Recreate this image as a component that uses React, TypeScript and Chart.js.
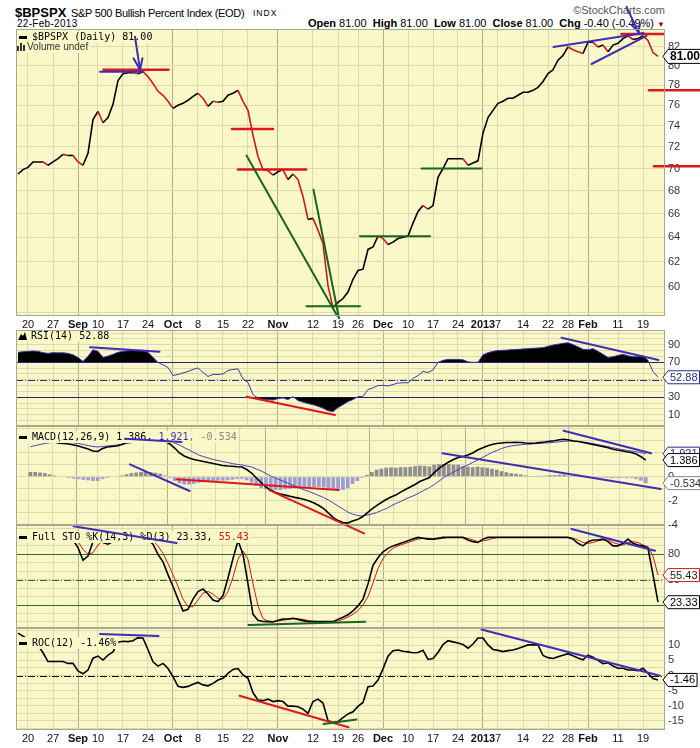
import React, { useEffect, useRef } from "react";
import { Chart, registerables } from "chart.js";
Chart.register(...registerables);

// ---------------- data ----------------
const TICK_IDX = [2, 7, 12, 16, 21, 26, 31, 36, 41, 46, 52, 59, 64, 68, 73, 78, 83, 88, 93, 96, 101, 106, 110, 114, 120, 125];
const TICK_LABELS = ["20", "27", "Sep", "10", "17", "24", "Oct", "8", "15", "22", "Nov", "12", "19", "26", "Dec", "10", "17", "24", "2013", "7", "14", "22", "28", "Feb", "11", "19"];
const MONTH_TICKS = ["Sep", "Oct", "Nov", "Dec", "2013", "Feb"];

const PRICE = [
  69.5, 69.9, 70.1, 70.6, 70.6, 70.6, 70.3, 70.6, 70.9, 71.3,
  71.2, 71.2, 70.6, 70.3, 71.4, 74.6, 75.4, 74.3, 74.8, 76.1,
  78.5, 79.2, 79.3, 79.3, 79.2, 79.4, 78.9, 78.2, 77.4, 77.0,
  76.4, 75.7, 76.0, 76.2, 76.5, 76.9, 77.2, 76.7, 75.9, 76.4,
  76.3, 76.4, 77.0, 77.2, 77.5, 76.4, 75.5, 73.1, 71.1, 69.9,
  69.8, 69.4, 69.7, 69.9, 69.0, 69.5, 69.0, 67.5, 65.5, 65.6,
  64.6, 63.5, 60.1, 58.4, 58.8, 59.1, 59.6, 60.6, 61.3, 61.4,
  63.0, 63.2, 64.1, 63.9, 63.4, 63.6, 63.9, 64.0, 64.1, 65.2,
  66.2, 66.7, 66.4, 66.7, 69.2, 70.0, 70.9, 70.9, 70.9, 70.9,
  70.3, 70.5, 70.7, 73.3, 74.8, 75.5, 76.2, 76.4, 76.7, 76.7,
  77.0, 77.3, 77.3, 77.5, 77.8, 78.4, 79.2, 79.6, 80.6, 81.1,
  82.0, 81.7, 81.5, 81.3, 82.5, 82.5, 82.0, 82.2, 81.5, 82.2,
  82.4, 82.9, 83.2, 82.8, 82.9, 83.2, 82.7, 81.4, 81.0,
];

const RSI = [
  81.4, 82.0, 82.5, 82.9, 82.5, 81.0, 80.2, 81.0, 80.8, 80.8,
  80.2, 78.5, 75.6, 71.0, 76.8, 84.3, 82.5, 75.6, 77.1, 79.1,
  81.4, 82.5, 83.1, 83.7, 83.7, 83.7, 81.4, 75.6, 69.9, 67.0,
  64.1, 54.9, 56.1, 57.8, 59.5, 61.8, 63.6, 58.4, 53.8, 56.1,
  56.1, 56.7, 60.7, 61.8, 62.4, 50.9, 46.9, 33.1, 29.1, 27.4,
  27.4, 26.8, 28.5, 29.3, 27.4, 30.8, 26.2, 24.5, 22.8, 21.6,
  19.7, 17.6, 14.7, 13.6, 18.2, 21.6, 25.1, 27.4, 30.8, 31.1,
  38.9, 40.8, 43.4, 43.7, 42.9, 44.6, 46.3, 46.6, 46.6, 51.5,
  54.9, 59.5, 58.4, 61.3, 69.9, 72.2, 73.3, 73.3, 73.3, 72.8,
  70.5, 69.9, 70.1, 78.5, 81.0, 82.5, 83.4, 83.7, 84.0, 84.5,
  84.8, 85.2, 85.5, 86.0, 86.3, 86.7, 88.3, 89.7, 90.6, 91.7,
  92.3, 90.2, 87.7, 84.8, 84.3, 85.6, 82.5, 79.1, 75.6, 76.4,
  77.9, 79.1, 77.4, 76.4, 76.4, 77.4, 72.2, 59.5, 52.88,
];

const MACD = [
  2.98, 3.0, 3.0, 2.98, 2.93, 2.9, 2.8, 2.77, 2.72, 2.64,
  2.56, 2.43, 2.31, 2.14, 2.1, 2.35, 2.48, 2.52, 2.56, 2.68,
  2.85, 2.98, 3.06, 3.12, 3.14, 3.14, 3.1, 3.06, 2.93, 2.73,
  2.39, 1.98, 1.73, 1.56, 1.43, 1.35, 1.27, 1.18, 1.1, 1.02,
  0.93, 0.89, 0.87, 0.83, 0.81, 0.6, 0.31, -0.11, -0.48, -0.86,
  -1.11, -1.32, -1.44, -1.53, -1.63, -1.72, -1.8, -1.9, -2.03, -2.19,
  -2.4, -2.65, -3.03, -3.4, -3.65, -3.82, -3.86, -3.69, -3.57, -3.36,
  -3.03, -2.69, -2.4, -2.15, -1.9, -1.69, -1.53, -1.28, -1.07, -0.86,
  -0.65, -0.4, -0.23, -0.07, 0.35, 0.7, 0.98, 1.23, 1.43, 1.6,
  1.68, 1.81, 1.98, 2.23, 2.39, 2.56, 2.68, 2.77, 2.81, 2.85,
  2.85, 2.87, 2.85, 2.81, 2.78, 2.81, 2.85, 2.89, 2.95, 3.0,
  3.08, 3.12, 3.06, 2.98, 2.93, 2.85, 2.77, 2.68, 2.6, 2.52,
  2.43, 2.31, 2.23, 2.17, 2.08, 2.02, 1.89, 1.67, 1.386,
];

const SIGNAL = [
  2.5, 2.6, 2.68, 2.77, 2.83, 2.87, 2.89, 2.89, 2.85, 2.81,
  2.77, 2.68, 2.6, 2.52, 2.48, 2.52, 2.56, 2.6, 2.64, 2.7,
  2.77, 2.83, 2.89, 2.93, 2.98, 3.02, 3.04, 3.02, 2.98, 2.89,
  2.81, 2.64, 2.43, 2.23, 2.02, 1.81, 1.67, 1.56, 1.43, 1.35,
  1.27, 1.18, 1.1, 1.03, 0.98, 0.89, 0.81, 0.64, 0.48, 0.27,
  0.06, -0.11, -0.28, -0.44, -0.61, -0.78, -0.94, -1.11, -1.23, -1.4,
  -1.57, -1.73, -1.94, -2.19, -2.44, -2.69, -2.94, -3.11, -3.23, -3.28,
  -3.19, -3.11, -2.98, -2.82, -2.65, -2.44, -2.23, -2.07, -1.86, -1.69,
  -1.53, -1.32, -1.11, -0.9, -0.65, -0.36, -0.07, 0.18, 0.39, 0.6,
  0.81, 0.98, 1.18, 1.39, 1.6, 1.81, 2.02, 2.18, 2.35, 2.48,
  2.56, 2.62, 2.66, 2.7, 2.73, 2.75, 2.78, 2.81, 2.83, 2.87,
  2.91, 2.95, 2.98, 2.96, 2.93, 2.89, 2.83, 2.77, 2.68, 2.6,
  2.52, 2.43, 2.35, 2.27, 2.2, 2.14, 2.08, 2.0, 1.921,
];

const HIST = [
  0.4, 0.4, 0.35, 0.3, 0.2, 0.1, 0.0, -0.05, -0.1, -0.15,
  -0.2, -0.25, -0.3, -0.35, -0.35, -0.2, -0.1, 0.0, 0.05, 0.1,
  0.2, 0.3, 0.35, 0.4, 0.4, 0.38, 0.33, 0.25, 0.1, -0.1,
  -0.35, -0.55, -0.65, -0.65, -0.6, -0.5, -0.45, -0.4, -0.35, -0.33,
  -0.33, -0.3, -0.25, -0.2, -0.2, -0.3, -0.5, -0.75, -0.95, -1.05,
  -1.1, -1.1, -1.1, -1.05, -1.0, -0.95, -0.9, -0.85, -0.85, -0.85,
  -0.85, -0.9, -1.0, -1.1, -1.15, -1.1, -0.95, -0.6, -0.35, -0.1,
  0.15, 0.4, 0.58, 0.67, 0.75, 0.78, 0.75, 0.8, 0.8, 0.83,
  0.88, 0.92, 0.9, 0.85, 1.0, 1.05, 1.05, 1.05, 1.0, 1.0,
  0.87, 0.83, 0.8, 0.84, 0.79, 0.75, 0.66, 0.59, 0.46, 0.37,
  0.29, 0.25, 0.19, 0.11, 0.05, 0.06, 0.07, 0.08, 0.12, 0.13,
  0.17, 0.17, 0.08, 0.02, 0.0, -0.04, -0.06, -0.09, -0.08, -0.08,
  -0.09, -0.12, -0.12, -0.1, -0.12, -0.12, -0.19, -0.33, -0.534,
];

const STO_K = [
  95, 97, 98, 100, 100, 99, 96, 96, 98, 100,
  99, 97, 88, 73, 78, 95, 100, 94, 92, 95,
  98, 100, 100, 100, 98, 100, 97, 92, 80, 71,
  56, 42, 27, 13, 15, 27, 36, 39, 33, 26,
  24, 31, 52, 75, 96, 80, 45, 9, 2, 0.5,
  0.3, 0, 2, 3.5, 3.5, 4.3, 3, 1.5, 0.5, 0.3,
  0.3, 0.3, 0.3, 0.3, 3, 5.5, 8.5, 13, 19, 27,
  45, 67, 76, 83, 87, 90, 92, 94, 96, 98,
  100, 99, 98, 98, 99, 100, 100, 100, 100, 100,
  97, 95, 94, 98, 100, 100, 100, 100, 100, 100,
  100, 100, 100, 100, 100, 100, 100, 100, 100, 100,
  100, 98, 93, 90, 95, 97, 97, 98, 95, 90,
  90, 93, 98, 93, 91, 90, 87, 56, 23.33,
];

const STO_D = [
  94, 95, 97, 98, 99, 100, 98, 97, 97, 98,
  99, 99, 95, 86, 80, 82, 91, 96, 95, 94,
  95, 98, 99, 100, 99, 99, 98, 96, 90, 81,
  69, 56, 42, 27, 18, 18, 26, 34, 36, 33,
  28, 27, 36, 53, 74, 84, 74, 45, 19, 4,
  1, 0.5, 1, 2, 3, 3.8, 3.6, 3, 1.7, 0.8,
  0.4, 0.3, 0.3, 0.3, 1.2, 3, 5.7, 9, 13.5, 20,
  30, 46, 63, 75, 82, 87, 90, 92, 94, 96,
  98, 99, 99, 98, 98, 99, 100, 100, 100, 100,
  99, 97, 95, 96, 97, 99, 100, 100, 100, 100,
  100, 100, 100, 100, 100, 100, 100, 100, 100, 100,
  100, 99, 97, 94, 93, 94, 96, 97, 97, 94,
  92, 91, 94, 95, 94, 91, 89, 78, 55.43,
];

const ROC = [
  14, 13, 12, 12, 10, 7.5, 4.6, 4.6, 4.6, 4.6,
  4.0, 4.0, 1.5, 0.6, 1.8, 5.7, 6.4, 5.1, 6.7, 7.8,
  11, 11.3, 11.2, 11.5, 12.5, 12.3, 8.5, 4.5, 3.1, 4.0,
  2.3, -0.4, -3.6, -3.9, -3.6, -2.9, -2.3, -3.1, -3.4, -2.6,
  -1.5, -0.9, 0.7, 2.0, 2.3, 0.2, -0.9, -5.7, -8.1, -8.3,
  -7.8, -8.6, -8.3, -8.6, -10.1, -10.1, -10.3, -11.1, -12.5, -8.6,
  -7.8, -9.1, -14.9, -15.5, -15.2, -13.9, -12.7, -12.0, -10.2, -8.9,
  -3.7, -3.5, -1.5, 2.2, 6.4, 8.2, 8.4, 8.0, 7.8, 7.5,
  7.6, 8.3, 5.3, 5.6, 7.6, 10.2, 11.5, 11.1, 10.7, 10.2,
  9.0, 10.4, 12.4, 12.4, 10.1, 8.6, 8.3, 7.9, 8.2, 8.4,
  8.9, 9.5, 10.1, 10.1, 10.1, 6.6, 5.9, 5.6, 6.2, 6.7,
  7.2, 6.5, 5.8, 5.2, 6.7, 6.0, 5.0, 3.9, 4.2, 3.1,
  2.4, 2.4, 1.8, 1.8, 1.6, 2.4, 0.7, -1.0, -1.46,
];

// y tick values / labels
const PRICE_TICKS = [58, 60, 62, 64, 66, 68, 70, 72, 74, 76, 78, 80, 82];
const PRICE_LABELS = [60, 62, 64, 66, 68, 70, 72, 74, 76, 78, 80, 82];
const RSI_TICKS = [3.33, 10, 16.67, 23.33, 30, 36.67, 43.33, 50, 56.67, 63.33, 70, 76.67, 83.33, 90, 96.67, 103.33];
const RSI_LABELS = [10, 30, 50, 70, 90];
const MACD_TICKS = [-4, -3, -2, -1, 0, 1, 2, 3, 4];
const MACD_LABELS = [-4, -2, 0, 2];
const STO_TICKS = [0, 10, 20, 30, 40, 50, 60, 70, 80, 90, 100, 110];
const STO_LABELS = [20, 50, 80];
const ROC_TICKS = [-17.5, -15, -12.5, -10, -7.5, -5, -2.5, 0, 2.5, 5, 7.5, 10, 12.5, 15];
const ROC_LABELS = [-15, -10, -5, 0, 5, 10];

const RSI_LEVELS = [70, 50, 30];
const STO_LEVELS = [80, 50, 20];
const ROC_LEVELS = [0];

// hand-drawn annotation segments [x1, y1, x2, y2] in data units
const PRICE_RED_NOTES = [
  [17.1, 79.6, 30.1, 79.6], [42.8, 73.7, 51.0, 73.7], [44.0, 69.9, 57.6, 69.9],
  [126.2, 77.5, 136.4, 77.5], [127.2, 70.2, 136.4, 70.2], [120.7, 83.4, 129.1, 83.4],
];
const PRICE_BLUE_NOTES = [
  [16.4, 79.4, 25.1, 79.4], [23.4, 83.1, 24.4, 79.6], [23.1, 80.8, 24.4, 79.6], [24.9, 80.8, 24.4, 79.6],
  [107.1, 82.0, 125.1, 83.5], [114.7, 80.2, 125.7, 83.2],
  [121.7, 86.4, 124.1, 83.6], [122.7, 84.4, 124.1, 83.6], [124.4, 84.5, 124.1, 83.6],
];
const PRICE_GREEN_NOTES = [
  [45.7, 71.2, 63.8, 57.8], [59.1, 68.1, 64.2, 57.6], [57.7, 58.5, 68.4, 58.5],
  [68.4, 64.1, 82.4, 64.1], [80.7, 70.0, 92.7, 70.0],
];
const RSI_BLUE_NOTES = [[14.4, 87.1, 28.3, 82.1], [108.7, 98.1, 128.1, 72.6]];
const RSI_RED_NOTES = [[45.7, 30.7, 63.4, 9.8]];
const MACD_BLUE_NOTES = [[19.7, 3.17, 31.4, 2.89], [20.7, 1.03, 33.1, -1.19], [85.7, 1.95, 131.1, -1.03], [110.9, 3.83, 129.1, 1.95]];
const MACD_RED_NOTES = [[30.4, -0.22, 64.1, -1.11], [49.7, -1.11, 69.4, -4.72]];
const STO_BLUE_NOTES = [[11.1, 113.2, 31.7, 93.4], [110.7, 110, 127.4, 84.3]];
const STO_GREEN_NOTES = [[46.1, -3.6, 69.4, 0.3]];
const ROC_BLUE_NOTES = [[16.4, 13.7, 28.1, 13.0], [92.7, 15.2, 128.4, -0.07]];
const ROC_RED_NOTES = [[44.3, -6.67, 66.1, -17.1]];
const ROC_GREEN_NOTES = [[61.1, -16, 67.7, -14.5]];

// ---------------- styles ----------------
const FONT = "'Liberation Sans', Arial, sans-serif";
const MONO = "'DejaVu Sans Mono', monospace";
const PLOT_BG = "#FAF8C9";
const GRID = "#DCD9AC";
const GRID_DARK = "#B2B08C";
const NOTE_RED = "#E0161B";
const NOTE_BLUE = "#3F2EB4";
const NOTE_GREEN = "#17661D";
const LINE_RED = "#D0181A";
const NAVY = "#2B2A8C";
const DKGREEN = "#2E6A2A";

const X_MIN = -0.4;
const X_MAX = 129.4;
const PAGE_LEFT = 16;

const pts = (arr: number[]) => arr.map((v, i) => ({ x: i, y: v }));

function noteSets(list: number[][], color: string, width: number) {
  return list.map((n) => ({
    type: "line",
    data: [{ x: n[0], y: n[1] }, { x: n[2], y: n[3] }],
    borderColor: color,
    borderWidth: width,
    pointRadius: 0,
    fill: false,
    clip: false,
    tension: 0,
    order: 0,
    borderCapStyle: "round",
    isNote: true,
  }));
}

function drawTag(ctx: any, x: number, y: number, t: any) {
  ctx.save();
  const size = t.size || 11;
  ctx.font = `${t.bold ? "bold " : ""}${size}px ${FONT}`;
  const w = ctx.measureText(t.text).width + 4;
  const h = size + 2;
  ctx.beginPath();
  ctx.moveTo(x, y);
  ctx.lineTo(x + 5, y - h / 2);
  ctx.lineTo(x + 5 + w, y - h / 2);
  ctx.lineTo(x + 5 + w, y + h / 2);
  ctx.lineTo(x + 5, y + h / 2);
  ctx.closePath();
  ctx.fillStyle = "#fff";
  ctx.fill();
  ctx.lineWidth = 1;
  ctx.strokeStyle = t.border;
  ctx.stroke();
  ctx.fillStyle = t.color;
  ctx.textBaseline = "middle";
  ctx.textAlign = "left";
  ctx.fillText(t.text, x + 7, y + 0.5);
  ctx.restore();
}

function drawLegend(chart: any, p: any) {
  const ctx = chart.ctx;
  (p.legend || []).forEach((it: any) => {
    const x0 = it.x - PAGE_LEFT;
    const tx = it.tx - PAGE_LEFT;
    const y0 = it.y - p.top;
    ctx.save();
    ctx.font = it.font;
    let w = 0;
    it.parts.forEach((pt: any) => (w += ctx.measureText(pt[0]).width));
    ctx.fillStyle = PLOT_BG;
    ctx.fillRect(x0 - 1, y0 - 6, tx - x0 + w + 3, 12);
    if (it.dash) {
      ctx.fillStyle = "#000";
      ctx.fillRect(x0, y0 - 1, 8, 3);
    }
    if (it.icon === "mountain") {
      ctx.fillStyle = "#000";
      ctx.beginPath();
      ctx.moveTo(x0, y0 + 4);
      ctx.lineTo(x0 + 3, y0 - 2);
      ctx.lineTo(x0 + 5, y0);
      ctx.lineTo(x0 + 7, y0 - 4);
      ctx.lineTo(x0 + 9, y0 + 4);
      ctx.closePath();
      ctx.fill();
    }
    if (it.icon === "vol") {
      ctx.fillStyle = "#333";
      ctx.fillRect(x0, y0 - 1, 2, 5);
      ctx.fillRect(x0 + 3, y0 - 4, 2, 8);
      ctx.fillRect(x0 + 6, y0 - 2, 2, 6);
    }
    ctx.textBaseline = "middle";
    let cx = tx;
    it.parts.forEach((pt: any) => {
      ctx.fillStyle = pt[1];
      ctx.fillText(pt[0], cx, y0 + 0.5);
      cx += ctx.measureText(pt[0]).width;
    });
    ctx.restore();
  });
}

function panelPlugin(p: any) {
  return {
    id: "panel_" + p.key,
    beforeDraw(chart: any) {
      const a = chart.chartArea;
      const ctx = chart.ctx;
      ctx.save();
      ctx.fillStyle = PLOT_BG;
      ctx.fillRect(a.left, a.top, a.right - a.left, a.bottom - a.top);
      ctx.restore();
      chart.$legendDone = false;
    },
    beforeDatasetsDraw(chart: any) {
      const a = chart.chartArea;
      const ctx = chart.ctx;
      const ys = chart.scales.y;
      (p.levels || []).forEach((l: any) => {
        const y = Math.round(ys.getPixelForValue(l.v)) + 0.5;
        ctx.save();
        ctx.strokeStyle = l.color;
        ctx.lineWidth = 1;
        ctx.setLineDash(l.dash ? [7, 2, 1, 2] : []);
        ctx.beginPath();
        ctx.moveTo(a.left, y);
        ctx.lineTo(a.right, y);
        ctx.stroke();
        ctx.restore();
      });
    },
    beforeDatasetDraw(chart: any, args: any) {
      if (!chart.$legendDone && chart.data.datasets[args.index].isNote) {
        drawLegend(chart, p);
        chart.$legendDone = true;
      }
    },
    afterDatasetsDraw(chart: any) {
      if (!chart.$legendDone) {
        drawLegend(chart, p);
        chart.$legendDone = true;
      }
    },
    afterDraw(chart: any) {
      const a = chart.chartArea;
      const ctx = chart.ctx;
      ctx.save();
      ctx.strokeStyle = "#A8A792";
      ctx.lineWidth = 1;
      ctx.strokeRect(a.left + 0.5, a.top + 0.5, a.right - a.left - 1, a.bottom - a.top - 1);
      ctx.restore();
      const ys = chart.scales.y;
      (p.tags || []).forEach((t: any) => drawTag(ctx, a.right - 2, ys.getPixelForValue(t.v), t));
    },
  };
}

function buildConfig(p: any) {
  const tickFont = { family: FONT, size: 11 };
  return {
    type: "line",
    data: { datasets: p.datasets },
    options: {
      animation: false,
      responsive: false,
      devicePixelRatio: 1,
      events: [],
      layout: { padding: { top: p.padTop, bottom: p.padBottom, left: 0, right: 0 } },
      plugins: { legend: { display: false }, tooltip: { enabled: false } },
      scales: {
        x: {
          type: "linear",
          min: X_MIN,
          max: X_MAX,
          bounds: "data",
          position: "bottom",
          afterBuildTicks: (s: any) => {
            s.ticks = TICK_IDX.map((v) => ({ value: v }));
          },
          afterFit: (s: any) => {
            s.height = p.xAxisH;
            s.paddingLeft = 0;
            s.paddingRight = 0;
          },
          border: { display: false },
          grid: {
            drawTicks: false,
            lineWidth: 1,
            color: (c: any) => (MONTH_TICKS.includes(TICK_LABELS[c.index]) ? GRID_DARK : GRID),
          },
          ticks: {
            display: p.xLabels,
            autoSkip: false,
            maxRotation: 0,
            padding: 2,
            color: "#111",
            font: (c: any) => ({
              family: FONT,
              size: 11,
              weight: MONTH_TICKS.includes(TICK_LABELS[c.index]) ? "bold" : "normal",
            }),
            callback: (_v: any, i: number) => TICK_LABELS[i],
          },
        },
        y: {
          type: p.yType || "linear",
          position: "right",
          min: p.yMin,
          max: p.yMax,
          bounds: "data",
          afterBuildTicks: (s: any) => {
            s.ticks = p.yTicks.map((v: number) => ({ value: v }));
          },
          afterFit: (s: any) => {
            s.width = 35;
            s.paddingTop = 0;
            s.paddingBottom = 0;
          },
          border: { display: false },
          grid: { drawTicks: false, color: GRID, lineWidth: 1 },
          ticks: {
            padding: 3,
            color: "#333",
            font: tickFont,
            autoSkip: false,
            callback: (v: any) => (p.yLabels.includes(v) ? String(v) : ""),
          },
        },
      },
    },
    plugins: [panelPlugin(p)],
  };
}

const PANELS: any[] = [
  {
    key: "price", top: 0, height: 330, padTop: 29, padBottom: 0, xAxisH: 14, xLabels: true,
    yType: "logarithmic", yMin: 57.77, yMax: 83.94, yTicks: PRICE_TICKS, yLabels: PRICE_LABELS,
    datasets: [
      {
        type: "line", data: pts(PRICE), borderColor: "#000", borderWidth: 1.6, pointRadius: 0, tension: 0, order: 1,
        segment: { borderColor: (c: any) => (c.p1.parsed.y < c.p0.parsed.y ? LINE_RED : "#000") },
      },
      ...noteSets(PRICE_GREEN_NOTES, NOTE_GREEN, 2),
      ...noteSets(PRICE_BLUE_NOTES, NOTE_BLUE, 2),
      ...noteSets(PRICE_RED_NOTES, NOTE_RED, 2.5),
    ],
    legend: [
      { dash: true, x: 19, tx: 32, y: 37, font: `10px ${MONO}`, parts: [["$BPSPX (Daily) 81.00", "#000"]] },
      { icon: "vol", x: 17, tx: 27, y: 47, font: `10px ${FONT}`, parts: [["Volume undef", "#333"]] },
    ],
    tags: [{ v: 81.0, text: "81.00", border: "#000", color: "#000", bold: true, size: 12 }],
  },
  {
    key: "rsi", top: 318, height: 120, padTop: 12, padBottom: 12, xAxisH: 0, xLabels: false,
    yMin: -2.8, yMax: 106.9, yTicks: RSI_TICKS, yLabels: RSI_LABELS,
    levels: [
      { v: RSI_LEVELS[0], color: NAVY }, { v: RSI_LEVELS[1], color: NAVY, dash: true }, { v: RSI_LEVELS[2], color: NAVY },
    ],
    datasets: [
      {
        type: "line", data: pts(RSI), borderColor: "#3A36AA", borderWidth: 1, pointRadius: 0, tension: 0, order: 2,
        fill: { target: { value: RSI_LEVELS[0] }, above: "#000", below: "rgba(0,0,0,0)" },
      },
      {
        type: "line", data: pts(RSI), borderColor: "rgba(0,0,0,0)", borderWidth: 0, pointRadius: 0, tension: 0, order: 3,
        fill: { target: { value: RSI_LEVELS[2] }, above: "rgba(0,0,0,0)", below: "#000" },
      },
      ...noteSets(RSI_BLUE_NOTES, NOTE_BLUE, 2),
      ...noteSets(RSI_RED_NOTES, NOTE_RED, 2),
    ],
    legend: [{ icon: "mountain", x: 18, tx: 31, y: 336, font: `10px ${MONO}`, parts: [["RSI(14) 52.88", "#000"]] }],
    tags: [{ v: 52.88, text: "52.88", border: NAVY, color: NAVY }],
  },
  {
    key: "macd", top: 414, height: 123, padTop: 12, padBottom: 12, xAxisH: 0, xLabels: false,
    yMin: -4.02, yMax: 4.225, yTicks: MACD_TICKS, yLabels: MACD_LABELS,
    datasets: [
      {
        type: "bar", data: pts(HIST), order: 3, barPercentage: 0.78, categoryPercentage: 1,
        backgroundColor: (c: any) => (c.raw && c.raw.y < 0 ? "#9D9CD3" : "#8E8E8E"),
      },
      { type: "line", data: pts(SIGNAL), borderColor: "#4A3FC0", borderWidth: 1, pointRadius: 0, tension: 0, order: 2 },
      { type: "line", data: pts(MACD), borderColor: "#000", borderWidth: 1.6, pointRadius: 0, tension: 0, order: 1 },
      ...noteSets(MACD_BLUE_NOTES, NOTE_BLUE, 2),
      ...noteSets(MACD_RED_NOTES, NOTE_RED, 2),
    ],
    legend: [
      {
        dash: true, x: 19, tx: 32, y: 437, font: `10px ${MONO}`,
        parts: [["MACD(12,26,9) ", "#000"], ["1.386", "#000"], [", ", "#000"], ["1.921", "#3A36AA"], [", ", "#777"], ["-0.534", "#888"]],
      },
    ],
    tags: [
      { v: -0.534, text: "-0.534", border: "#888", color: "#333" },
      { v: 1.921, text: "1.921", border: NAVY, color: NAVY },
      { v: 1.386, text: "1.386", border: "#000", color: "#000" },
    ],
  },
  {
    key: "sto", top: 513, height: 127, padTop: 12, padBottom: 12, xAxisH: 0, xLabels: false,
    yMin: -7.2, yMax: 114.7, yTicks: STO_TICKS, yLabels: STO_LABELS,
    levels: [
      { v: STO_LEVELS[0], color: DKGREEN }, { v: STO_LEVELS[1], color: DKGREEN, dash: true }, { v: STO_LEVELS[2], color: DKGREEN },
    ],
    datasets: [
      { type: "line", data: pts(STO_D), borderColor: LINE_RED, borderWidth: 1, pointRadius: 0, tension: 0, order: 2 },
      { type: "line", data: pts(STO_K), borderColor: "#000", borderWidth: 1.6, pointRadius: 0, tension: 0, order: 1 },
      ...noteSets(STO_GREEN_NOTES, NOTE_GREEN, 2),
      ...noteSets(STO_BLUE_NOTES, NOTE_BLUE, 2),
    ],
    legend: [
      {
        dash: true, x: 19, tx: 32, y: 537, font: `10px ${MONO}`,
        parts: [["Full STO %K(14,3) %D(3) 23.33, ", "#000"], ["55.43", "#D0181A"]],
      },
    ],
    tags: [
      { v: 55.43, text: "55.43", border: LINE_RED, color: "#222" },
      { v: 23.33, text: "23.33", border: "#000", color: "#000" },
    ],
  },
  {
    key: "roc", top: 616, height: 132, padTop: 12, padBottom: 0, xAxisH: 18, xLabels: true,
    yMin: -17.99, yMax: 15.68, yTicks: ROC_TICKS, yLabels: ROC_LABELS,
    levels: [{ v: ROC_LEVELS[0], color: "#000", dash: true }],
    datasets: [
      { type: "line", data: pts(ROC), borderColor: "#000", borderWidth: 1.6, pointRadius: 0, tension: 0, order: 1 },
      ...noteSets(ROC_GREEN_NOTES, NOTE_GREEN, 2),
      ...noteSets(ROC_RED_NOTES, NOTE_RED, 2),
      ...noteSets(ROC_BLUE_NOTES, NOTE_BLUE, 2),
    ],
    legend: [{ dash: true, x: 19, tx: 32, y: 643, font: `10px ${MONO}`, parts: [["ROC(12) -1.46%", "#000"]] }],
    tags: [{ v: -1.46, text: "-1.46", border: "#000", color: "#000" }],
  },
];

function Txt(props: any) {
  const { x, base, size, bold, color, right, ls, children } = props;
  const top = base - 0.8465 * size;
  const style: any = {
    position: "absolute",
    top,
    fontFamily: FONT,
    fontSize: size,
    lineHeight: `${size}px`,
    fontWeight: bold ? "bold" : "normal",
    color: color || "#000",
    whiteSpace: "nowrap",
    letterSpacing: ls || 0,
  };
  if (right !== undefined) style.right = right;
  else style.left = x;
  return <div style={style}>{children}</div>;
}

export default function App() {
  const r0 = useRef<HTMLCanvasElement>(null);
  const r1 = useRef<HTMLCanvasElement>(null);
  const r2 = useRef<HTMLCanvasElement>(null);
  const r3 = useRef<HTMLCanvasElement>(null);
  const r4 = useRef<HTMLCanvasElement>(null);
  const refs = [r0, r1, r2, r3, r4];

  useEffect(() => {
    Chart.defaults.font.family = FONT;
    const charts = PANELS.map((p, k) => new Chart(refs[k].current as any, buildConfig(p) as any));
    return () => charts.forEach((c) => c.destroy());
  }, []);

  return (
    <div style={{ position: "absolute", left: 0, top: 0, width: 700, height: 748, background: "#fff", overflow: "hidden" }}>
      <Txt x={15} base={17} size={13} bold>$BPSPX</Txt>
      <Txt x={71} base={17} size={11} ls={-0.3}>S&amp;P 500 Bullish Percent Index (EOD)</Txt>
      <Txt x={253} base={16.5} size={8.5} ls={1}>INDX</Txt>
      <Txt x={17} base={27} size={10} ls={0.3}>22-Feb-2013</Txt>
      <Txt right={35} base={14.5} size={11} color="#555">©StockCharts.com</Txt>
      <Txt right={35} base={27} size={11}>
        <b>Open</b> 81.00&nbsp; <b>High</b> 81.00&nbsp; <b>Low</b> 81.00&nbsp; <b>Close</b> 81.00&nbsp; <b>Chg</b> -0.40 (-0.49%){" "}
        <span style={{ color: "#9B1020", fontSize: 8 }}>▼</span>
      </Txt>
      {PANELS.map((p, k) => (
        <canvas
          key={p.key}
          ref={refs[k]}
          width={684}
          height={p.height}
          style={{ position: "absolute", left: PAGE_LEFT, top: p.top, width: 684, height: p.height, zIndex: 10 - k }}
        />
      ))}
    </div>
  );
}
